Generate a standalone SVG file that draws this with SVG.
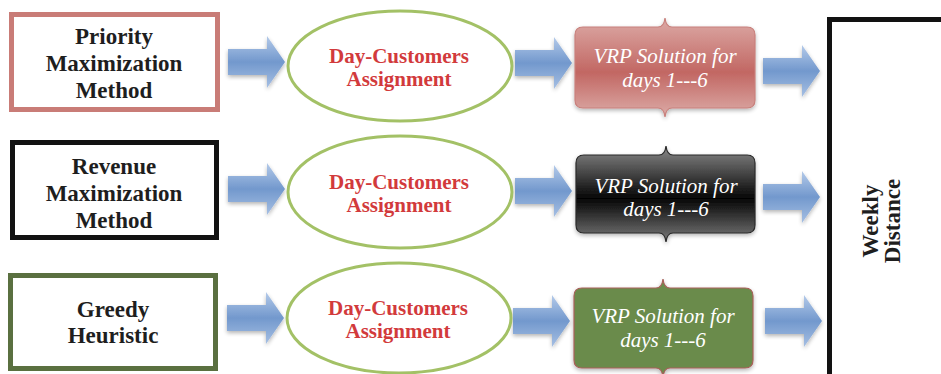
<svg xmlns="http://www.w3.org/2000/svg" width="941" height="374" viewBox="0 0 941 374">
  <defs>
    <style>
      .method { fill: #ffffff; stroke-width: 5; }
      .mtext { font-family: "Liberation Serif", "Times New Roman", serif; font-weight: bold; font-size: 23px; fill: #1e1e1e; text-anchor: middle; }
      .oval { fill: #ffffff; stroke: #a3c166; stroke-width: 3; }
      .otext { font-family: "Liberation Serif", "Times New Roman", serif; font-weight: bold; font-size: 21px; fill: #d23a3c; text-anchor: middle; }
      .vtext { font-family: "Liberation Serif", "Times New Roman", serif; font-style: italic; font-size: 21px; fill: #ffffff; text-anchor: middle; }
      .arrow { fill: url(#arrowFill); filter: url(#soft); }
    </style>
    <linearGradient id="arrowFill" x1="0" y1="0" x2="0" y2="1">
      <stop offset="0" stop-color="#b4cae9"/>
      <stop offset="0.5" stop-color="#7298cd"/>
      <stop offset="1" stop-color="#a6bfe3"/>
    </linearGradient>
    <linearGradient id="redFill" x1="0" y1="0" x2="0" y2="1">
      <stop offset="0" stop-color="#dcaaa6"/>
      <stop offset="0.55" stop-color="#c26763"/>
      <stop offset="1" stop-color="#dcaca8"/>
    </linearGradient>
    <linearGradient id="darkFill" x1="0" y1="0" x2="0" y2="1">
      <stop offset="0" stop-color="#8a8a8a"/>
      <stop offset="0.55" stop-color="#050505"/>
      <stop offset="1" stop-color="#7c7c7c"/>
    </linearGradient>
    <filter id="soft" x="-20%" y="-20%" width="140%" height="150%">
      <feGaussianBlur in="SourceAlpha" stdDeviation="2"/>
      <feOffset dx="0" dy="2" result="b"/>
      <feComponentTransfer><feFuncA type="linear" slope="0.3"/></feComponentTransfer>
      <feMerge><feMergeNode/><feMergeNode in="SourceGraphic"/></feMerge>
    </filter>
    <path id="arrowShape" d="M0,-13 H39 V-26 L57,0 L39,26 V13 H0 Z"/>
  </defs>

  <rect width="941" height="374" fill="#ffffff"/>

  <!-- connectors: block arrows between stages -->
  <g id="connectors">
    <use href="#arrowShape" class="arrow" transform="translate(228,62)"/>
    <use href="#arrowShape" class="arrow" transform="translate(228,189)"/>
    <use href="#arrowShape" class="arrow" transform="translate(227,318)"/>
    <use href="#arrowShape" class="arrow" transform="translate(515,63)"/>
    <use href="#arrowShape" class="arrow" transform="translate(515,191)"/>
    <use href="#arrowShape" class="arrow" transform="translate(513,321)"/>
    <use href="#arrowShape" class="arrow" transform="translate(763,71)"/>
    <use href="#arrowShape" class="arrow" transform="translate(763,197)"/>
    <use href="#arrowShape" class="arrow" transform="translate(765,321)"/>
  </g>

  <!-- method boxes -->
  <g id="priority-method">
    <rect class="method" x="11.5" y="14.5" width="206" height="95" stroke="#c97c77"/>
    <text class="mtext" x="114" y="44">Priority</text>
    <text class="mtext" x="114" y="71">Maximization</text>
    <text class="mtext" x="114" y="98">Method</text>
  </g>
  <g id="revenue-method">
    <rect class="method" x="12.5" y="142.5" width="204" height="95" stroke="#121212"/>
    <text class="mtext" x="114" y="174">Revenue</text>
    <text class="mtext" x="114" y="201">Maximization</text>
    <text class="mtext" x="114" y="228">Method</text>
  </g>
  <g id="greedy-heuristic">
    <rect class="method" x="10.5" y="275.5" width="205" height="93" stroke="#5a7040"/>
    <text class="mtext" x="113" y="317">Greedy</text>
    <text class="mtext" x="113" y="343">Heuristic</text>
  </g>

  <!-- assignment ovals -->
  <g id="assignment-1">
    <ellipse class="oval" cx="400" cy="66" rx="112" ry="55"/>
    <text class="otext" x="399" y="63">Day-Customers</text>
    <text class="otext" x="399" y="86">Assignment</text>
  </g>
  <g id="assignment-2">
    <ellipse class="oval" cx="400" cy="192" rx="112" ry="56"/>
    <text class="otext" x="399" y="189">Day-Customers</text>
    <text class="otext" x="399" y="212">Assignment</text>
  </g>
  <g id="assignment-3">
    <ellipse class="oval" cx="399" cy="318" rx="112" ry="55"/>
    <text class="otext" x="398" y="315">Day-Customers</text>
    <text class="otext" x="398" y="338">Assignment</text>
  </g>

  <!-- VRP solution boxes -->
  <g id="vrp-1">
    <path filter="url(#soft)" fill="url(#redFill)" stroke="#c8807c" stroke-width="1.2" d="M583,27 H658 Q664,27 665,18 Q666,27 672,27 H747 Q755,27 755,35 V100 Q755,108 747,108 H672 Q666,108 665,117 Q664,108 658,108 H583 Q575,108 575,100 V35 Q575,27 583,27 Z"/>
    <text class="vtext" x="665" y="63">VRP Solution for</text>
    <text class="vtext" x="665" y="87">days 1---6</text>
  </g>
  <g id="vrp-2">
    <path filter="url(#soft)" fill="url(#darkFill)" stroke="#2a2a2a" stroke-width="1.2" d="M584,155 H659 Q665,155 666,146 Q667,155 673,155 H747 Q755,155 755,163 V225 Q755,233 747,233 H673 Q667,233 666,242 Q665,233 659,233 H584 Q576,233 576,225 V163 Q576,155 584,155 Z"/>
    <text class="vtext" x="666" y="193">VRP Solution for</text>
    <text class="vtext" x="666" y="216">days 1---6</text>
  </g>
  <g id="vrp-3">
    <path filter="url(#soft)" fill="#6b8b4b" stroke="#a8605a" stroke-width="1.2" d="M582,288 H656 Q662,288 663,279 Q664,288 670,288 H745 Q753,288 753,296 V360 Q753,368 745,368 H670 Q664,368 663,377 Q662,368 656,368 H582 Q574,368 574,360 V296 Q574,288 582,288 Z"/>
    <text class="vtext" x="663" y="323">VRP Solution for</text>
    <text class="vtext" x="663" y="347">days 1---6</text>
  </g>

  <!-- result box -->
  <g id="weekly-distance">
    <rect x="829.5" y="19.5" width="150" height="380" fill="#ffffff" stroke="#121212" stroke-width="5"/>
    <g transform="translate(880,221) rotate(-90)">
      <text class="mtext" x="0" y="-2" font-size="21">Weekly</text>
      <text class="mtext" x="0" y="20" font-size="21">Distance</text>
    </g>
  </g>
</svg>
